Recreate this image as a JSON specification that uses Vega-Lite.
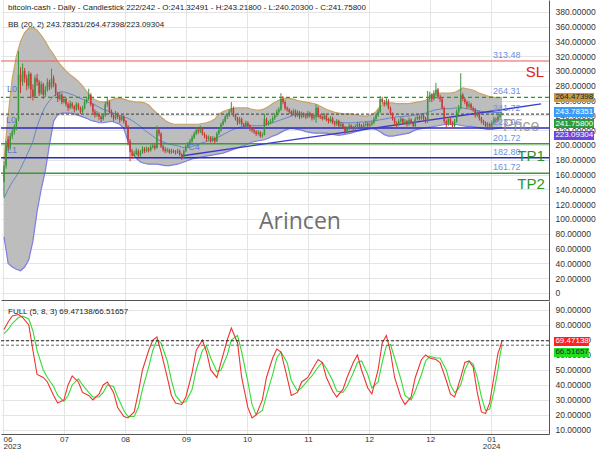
{
"$schema":"https://vega.github.io/schema/vega-lite/v6.json",
"padding":0,
"background":"white",
"spacing":1,
"config":{"view":{"stroke":null},"font":"Liberation Sans","axis":{"labelFont":"Liberation Sans","labelColor":"#333","labelFontSize":8,"gridColor":"#e4e4e4","domainColor":"#666","ticks":false,"labelOverlap":false}},
"datasets":{
"candles":[
{"i":0,"o":150,"h":178,"l":130,"c":172},{"i":1,"o":172,"h":205,"l":168,"c":200},{"i":2,"o":208,"h":212,"l":192,"c":195},{"i":3,"o":196,"h":216,"l":193,"c":212},{"i":4,"o":212,"h":222,"l":208,"c":218},{"i":5,"o":218,"h":228,"l":214,"c":225},{"i":6,"o":225,"h":236,"l":220,"c":232},{"i":7,"o":235,"h":327,"l":232,"c":295},{"i":8,"o":295,"h":305,"l":270,"c":285},{"i":9,"o":285,"h":310,"l":280,"c":300},
{"i":10,"o":300,"h":304,"l":284,"c":290},{"i":11,"o":290,"h":295,"l":274,"c":280},{"i":12,"o":280,"h":300,"l":276,"c":296},{"i":13,"o":296,"h":298,"l":263,"c":275},{"i":14,"o":275,"h":282,"l":260,"c":265},{"i":15,"o":266,"h":294,"l":264,"c":290},{"i":16,"o":290,"h":296,"l":280,"c":285},{"i":17,"o":285,"h":288,"l":266,"c":270},{"i":18,"o":270,"h":286,"l":268,"c":282},{"i":19,"o":282,"h":284,"l":262,"c":268},
{"i":20,"o":268,"h":280,"l":265,"c":275},{"i":21,"o":275,"h":290,"l":272,"c":285},{"i":22,"o":285,"h":288,"l":274,"c":278},{"i":23,"o":278,"h":303,"l":276,"c":290},{"i":24,"o":290,"h":294,"l":278,"c":282},{"i":25,"o":282,"h":284,"l":266,"c":270},{"i":26,"o":270,"h":272,"l":258,"c":262},{"i":27,"o":262,"h":272,"l":260,"c":268},{"i":28,"o":268,"h":270,"l":255,"c":258},{"i":29,"o":258,"h":266,"l":256,"c":262},
{"i":30,"o":262,"h":264,"l":252,"c":255},{"i":31,"o":255,"h":258,"l":246,"c":250},{"i":32,"o":250,"h":260,"l":248,"c":256},{"i":33,"o":256,"h":258,"l":249,"c":252},{"i":34,"o":252,"h":254,"l":244,"c":248},{"i":35,"o":248,"h":258,"l":246,"c":255},{"i":36,"o":255,"h":257,"l":247,"c":250},{"i":37,"o":250,"h":252,"l":242,"c":245},{"i":38,"o":245,"h":253,"l":243,"c":250},{"i":39,"o":250,"h":261,"l":248,"c":258},
{"i":40,"o":258,"h":265,"l":256,"c":262},{"i":41,"o":262,"h":276,"l":260,"c":268},{"i":42,"o":268,"h":270,"l":252,"c":255},{"i":43,"o":255,"h":257,"l":242,"c":245},{"i":44,"o":245,"h":248,"l":237,"c":240},{"i":45,"o":240,"h":246,"l":238,"c":242},{"i":46,"o":242,"h":244,"l":234,"c":238},{"i":47,"o":238,"h":240,"l":231,"c":235},{"i":48,"o":235,"h":243,"l":233,"c":240},{"i":49,"o":240,"h":258,"l":238,"c":255},
{"i":50,"o":255,"h":265,"l":252,"c":258},{"i":51,"o":258,"h":260,"l":242,"c":245},{"i":52,"o":245,"h":248,"l":237,"c":240},{"i":53,"o":240,"h":242,"l":232,"c":236},{"i":54,"o":236,"h":246,"l":234,"c":242},{"i":55,"o":242,"h":244,"l":235,"c":238},{"i":56,"o":238,"h":240,"l":230,"c":234},{"i":57,"o":234,"h":241,"l":232,"c":238},{"i":58,"o":238,"h":240,"l":229,"c":232},{"i":59,"o":232,"h":234,"l":222,"c":225},
{"i":60,"o":225,"h":227,"l":200,"c":205},{"i":61,"o":205,"h":208,"l":178,"c":190},{"i":62,"o":190,"h":194,"l":181,"c":185},{"i":63,"o":185,"h":192,"l":183,"c":188},{"i":64,"o":188,"h":196,"l":186,"c":192},{"i":65,"o":192,"h":194,"l":184,"c":186},{"i":66,"o":186,"h":193,"l":184,"c":190},{"i":67,"o":190,"h":198,"l":188,"c":195},{"i":68,"o":195,"h":197,"l":189,"c":192},{"i":69,"o":192,"h":198,"l":190,"c":195},
{"i":70,"o":195,"h":197,"l":190,"c":193},{"i":71,"o":193,"h":200,"l":191,"c":197},{"i":72,"o":197,"h":202,"l":195,"c":199},{"i":73,"o":199,"h":201,"l":193,"c":196},{"i":74,"o":196,"h":226,"l":195,"c":220},{"i":75,"o":220,"h":224,"l":212,"c":215},{"i":76,"o":215,"h":217,"l":196,"c":198},{"i":77,"o":198,"h":200,"l":191,"c":194},{"i":78,"o":194,"h":197,"l":189,"c":192},{"i":79,"o":192,"h":196,"l":190,"c":193},
{"i":80,"o":193,"h":195,"l":188,"c":190},{"i":81,"o":190,"h":195,"l":188,"c":192},{"i":82,"o":192,"h":194,"l":189,"c":191},{"i":83,"o":191,"h":193,"l":187,"c":190},{"i":84,"o":190,"h":195,"l":188,"c":192},{"i":85,"o":192,"h":194,"l":185,"c":187},{"i":86,"o":187,"h":189,"l":180,"c":183},{"i":87,"o":183,"h":194,"l":182,"c":192},{"i":88,"o":192,"h":200,"l":190,"c":198},{"i":89,"o":198,"h":204,"l":196,"c":202},
{"i":90,"o":202,"h":208,"l":200,"c":205},{"i":91,"o":205,"h":213,"l":203,"c":210},{"i":92,"o":210,"h":218,"l":208,"c":215},{"i":93,"o":215,"h":224,"l":213,"c":220},{"i":94,"o":220,"h":223,"l":215,"c":218},{"i":95,"o":218,"h":226,"l":216,"c":222},{"i":96,"o":222,"h":224,"l":213,"c":215},{"i":97,"o":215,"h":217,"l":209,"c":212},{"i":98,"o":212,"h":214,"l":205,"c":208},{"i":99,"o":208,"h":213,"l":206,"c":210},
{"i":100,"o":210,"h":212,"l":203,"c":206},{"i":101,"o":206,"h":212,"l":204,"c":209},{"i":102,"o":209,"h":211,"l":202,"c":205},{"i":103,"o":205,"h":218,"l":204,"c":215},{"i":104,"o":215,"h":223,"l":213,"c":220},{"i":105,"o":220,"h":230,"l":218,"c":228},{"i":106,"o":228,"h":235,"l":226,"c":232},{"i":107,"o":232,"h":241,"l":230,"c":238},{"i":108,"o":238,"h":243,"l":235,"c":240},{"i":109,"o":240,"h":248,"l":238,"c":245},
{"i":110,"o":245,"h":258,"l":243,"c":250},{"i":111,"o":250,"h":252,"l":238,"c":240},{"i":112,"o":240,"h":242,"l":233,"c":236},{"i":113,"o":236,"h":238,"l":227,"c":230},{"i":114,"o":230,"h":238,"l":228,"c":235},{"i":115,"o":235,"h":237,"l":226,"c":228},{"i":116,"o":228,"h":230,"l":222,"c":225},{"i":117,"o":225,"h":233,"l":223,"c":230},{"i":118,"o":230,"h":232,"l":224,"c":226},{"i":119,"o":226,"h":228,"l":219,"c":222},
{"i":120,"o":222,"h":224,"l":217,"c":220},{"i":121,"o":220,"h":222,"l":215,"c":218},{"i":122,"o":218,"h":220,"l":212,"c":215},{"i":123,"o":215,"h":220,"l":213,"c":217},{"i":124,"o":217,"h":219,"l":210,"c":212},{"i":125,"o":212,"h":217,"l":210,"c":214},{"i":126,"o":214,"h":242,"l":213,"c":235},{"i":127,"o":235,"h":237,"l":226,"c":228},{"i":128,"o":228,"h":233,"l":226,"c":230},{"i":129,"o":230,"h":235,"l":228,"c":232},
{"i":130,"o":232,"h":239,"l":230,"c":236},{"i":131,"o":236,"h":243,"l":234,"c":240},{"i":132,"o":240,"h":248,"l":238,"c":245},{"i":133,"o":245,"h":251,"l":243,"c":248},{"i":134,"o":248,"h":270,"l":246,"c":262},{"i":135,"o":262,"h":266,"l":255,"c":258},{"i":136,"o":258,"h":260,"l":247,"c":250},{"i":137,"o":250,"h":252,"l":245,"c":248},{"i":138,"o":248,"h":250,"l":242,"c":245},{"i":139,"o":245,"h":247,"l":239,"c":242},
{"i":140,"o":242,"h":249,"l":240,"c":246},{"i":141,"o":246,"h":248,"l":237,"c":240},{"i":142,"o":240,"h":247,"l":238,"c":244},{"i":143,"o":244,"h":246,"l":235,"c":238},{"i":144,"o":238,"h":245,"l":236,"c":242},{"i":145,"o":242,"h":244,"l":237,"c":240},{"i":146,"o":240,"h":242,"l":235,"c":238},{"i":147,"o":238,"h":246,"l":236,"c":243},{"i":148,"o":243,"h":245,"l":237,"c":240},{"i":149,"o":240,"h":242,"l":233,"c":236},
{"i":150,"o":236,"h":241,"l":234,"c":238},{"i":151,"o":238,"h":255,"l":230,"c":250},{"i":152,"o":250,"h":252,"l":237,"c":240},{"i":153,"o":240,"h":242,"l":235,"c":238},{"i":154,"o":238,"h":240,"l":233,"c":236},{"i":155,"o":236,"h":243,"l":234,"c":240},{"i":156,"o":240,"h":242,"l":232,"c":235},{"i":157,"o":235,"h":237,"l":229,"c":232},{"i":158,"o":232,"h":239,"l":230,"c":236},{"i":159,"o":236,"h":238,"l":228,"c":230},
{"i":160,"o":230,"h":232,"l":225,"c":228},{"i":161,"o":228,"h":235,"l":226,"c":232},{"i":162,"o":232,"h":234,"l":224,"c":226},{"i":163,"o":226,"h":231,"l":224,"c":228},{"i":164,"o":228,"h":230,"l":222,"c":224},{"i":165,"o":224,"h":226,"l":215,"c":218},{"i":166,"o":218,"h":225,"l":216,"c":222},{"i":167,"o":222,"h":229,"l":220,"c":226},{"i":168,"o":226,"h":228,"l":221,"c":224},{"i":169,"o":224,"h":226,"l":219,"c":222},
{"i":170,"o":222,"h":228,"l":220,"c":225},{"i":171,"o":225,"h":231,"l":223,"c":228},{"i":172,"o":228,"h":230,"l":224,"c":226},{"i":173,"o":226,"h":228,"l":221,"c":224},{"i":174,"o":224,"h":230,"l":222,"c":227},{"i":175,"o":227,"h":232,"l":225,"c":229},{"i":176,"o":229,"h":231,"l":224,"c":226},{"i":177,"o":226,"h":231,"l":224,"c":228},{"i":178,"o":228,"h":233,"l":226,"c":230},{"i":179,"o":230,"h":238,"l":228,"c":235},
{"i":180,"o":235,"h":243,"l":233,"c":240},{"i":181,"o":240,"h":248,"l":238,"c":245},{"i":182,"o":245,"h":266,"l":243,"c":262},{"i":183,"o":262,"h":265,"l":255,"c":258},{"i":184,"o":258,"h":261,"l":252,"c":255},{"i":185,"o":255,"h":264,"l":253,"c":260},{"i":186,"o":260,"h":262,"l":248,"c":250},{"i":187,"o":250,"h":252,"l":240,"c":242},{"i":188,"o":242,"h":244,"l":233,"c":235},{"i":189,"o":235,"h":237,"l":227,"c":230},
{"i":190,"o":230,"h":232,"l":224,"c":228},{"i":191,"o":228,"h":235,"l":226,"c":232},{"i":192,"o":232,"h":238,"l":230,"c":235},{"i":193,"o":235,"h":237,"l":227,"c":230},{"i":194,"o":230,"h":235,"l":228,"c":232},{"i":195,"o":232,"h":234,"l":225,"c":228},{"i":196,"o":228,"h":237,"l":226,"c":234},{"i":197,"o":234,"h":236,"l":228,"c":230},{"i":198,"o":230,"h":232,"l":223,"c":226},{"i":199,"o":226,"h":238,"l":224,"c":235},
{"i":200,"o":235,"h":241,"l":233,"c":238},{"i":201,"o":238,"h":240,"l":233,"c":236},{"i":202,"o":236,"h":243,"l":234,"c":240},{"i":203,"o":240,"h":242,"l":233,"c":236},{"i":204,"o":236,"h":238,"l":229,"c":232},{"i":205,"o":232,"h":273,"l":230,"c":262},{"i":206,"o":262,"h":272,"l":258,"c":268},{"i":207,"o":268,"h":270,"l":258,"c":262},{"i":208,"o":262,"h":274,"l":260,"c":270},{"i":209,"o":270,"h":284,"l":266,"c":275},
{"i":210,"o":275,"h":277,"l":262,"c":265},{"i":211,"o":265,"h":268,"l":258,"c":262},{"i":212,"o":262,"h":264,"l":248,"c":250},{"i":213,"o":250,"h":252,"l":229,"c":232},{"i":214,"o":232,"h":234,"l":224,"c":228},{"i":215,"o":228,"h":238,"l":226,"c":235},{"i":216,"o":235,"h":237,"l":227,"c":230},{"i":217,"o":230,"h":232,"l":222,"c":226},{"i":218,"o":226,"h":235,"l":224,"c":232},{"i":219,"o":232,"h":248,"l":230,"c":245},
{"i":220,"o":245,"h":254,"l":243,"c":250},{"i":221,"o":250,"h":297,"l":248,"c":268},{"i":222,"o":268,"h":270,"l":259,"c":262},{"i":223,"o":262,"h":264,"l":255,"c":258},{"i":224,"o":258,"h":260,"l":249,"c":252},{"i":225,"o":252,"h":259,"l":250,"c":255},{"i":226,"o":255,"h":257,"l":247,"c":250},{"i":227,"o":250,"h":252,"l":245,"c":248},{"i":228,"o":248,"h":250,"l":237,"c":240},{"i":229,"o":240,"h":247,"l":238,"c":244},
{"i":230,"o":244,"h":246,"l":233,"c":236},{"i":231,"o":236,"h":238,"l":229,"c":232},{"i":232,"o":232,"h":234,"l":227,"c":230},{"i":233,"o":230,"h":232,"l":222,"c":226},{"i":234,"o":226,"h":231,"l":224,"c":228},{"i":235,"o":228,"h":230,"l":222,"c":225},{"i":236,"o":225,"h":233,"l":223,"c":230},{"i":237,"o":230,"h":238,"l":228,"c":235},{"i":238,"o":235,"h":237,"l":230,"c":233},{"i":239,"o":233,"h":241,"l":231,"c":238},
{"i":240,"o":238,"h":243,"l":236,"c":241.3},{"i":241,"o":241.32491,"h":243.218,"l":240.203,"c":241.758}
],
"bb":[
{"i":0,"u":180,"m":128,"lo":76},{"i":2,"u":240,"m":140,"lo":40},{"i":4,"u":290,"m":150,"lo":35},{"i":6,"u":320,"m":158,"lo":32},{"i":8,"u":340,"m":168,"lo":30},{"i":10,"u":352,"m":180,"lo":35},{"i":12,"u":358,"m":192,"lo":45},{"i":14,"u":359,"m":205,"lo":70},{"i":16,"u":355,"m":225,"lo":110},{"i":18,"u":348,"m":240,"lo":140},
{"i":20,"u":340,"m":252,"lo":165},{"i":22,"u":330,"m":260,"lo":200},{"i":24,"u":322,"m":266,"lo":232},{"i":26,"u":313,"m":270,"lo":241},{"i":28,"u":306,"m":272,"lo":243},{"i":30,"u":300,"m":271,"lo":243},{"i":32,"u":295,"m":269,"lo":243},{"i":34,"u":291,"m":267,"lo":242},{"i":36,"u":286,"m":264,"lo":240},{"i":38,"u":280,"m":262,"lo":238},
{"i":40,"u":272,"m":259,"lo":236},{"i":42,"u":265,"m":256,"lo":233},{"i":44,"u":261,"m":254,"lo":232},{"i":46,"u":259,"m":251,"lo":230},{"i":48,"u":258,"m":248,"lo":230},{"i":50,"u":259,"m":246,"lo":231},{"i":52,"u":261,"m":244,"lo":232},{"i":54,"u":263,"m":242,"lo":230},{"i":56,"u":263,"m":240,"lo":228},{"i":58,"u":262,"m":238,"lo":222},
{"i":60,"u":260,"m":236,"lo":205},{"i":62,"u":259,"m":233,"lo":190},{"i":64,"u":258,"m":229,"lo":182},{"i":66,"u":258,"m":225,"lo":177},{"i":68,"u":257,"m":220,"lo":175},{"i":70,"u":254,"m":216,"lo":174},{"i":72,"u":248,"m":212,"lo":174},{"i":74,"u":243,"m":208,"lo":174},{"i":76,"u":238,"m":205,"lo":173},{"i":78,"u":233,"m":203,"lo":172},
{"i":80,"u":230,"m":201,"lo":172},{"i":82,"u":228,"m":200,"lo":173},{"i":84,"u":228,"m":199,"lo":174},{"i":86,"u":228,"m":197,"lo":176},{"i":88,"u":228,"m":196,"lo":178},{"i":90,"u":228,"m":197,"lo":180},{"i":92,"u":228,"m":199,"lo":182},{"i":94,"u":228,"m":201,"lo":183},{"i":96,"u":229,"m":203,"lo":184},{"i":98,"u":230,"m":205,"lo":185},
{"i":100,"u":232,"m":206,"lo":186},{"i":102,"u":235,"m":208,"lo":187},{"i":104,"u":242,"m":211,"lo":188},{"i":106,"u":245,"m":214,"lo":189},{"i":108,"u":247,"m":217,"lo":191},{"i":110,"u":249,"m":220,"lo":193},{"i":112,"u":250,"m":222,"lo":195},{"i":114,"u":250,"m":224,"lo":197},{"i":116,"u":250,"m":225,"lo":199},{"i":118,"u":250,"m":226,"lo":201},
{"i":120,"u":248,"m":226,"lo":204},{"i":122,"u":247,"m":226,"lo":205},{"i":124,"u":247,"m":226,"lo":206},{"i":126,"u":249,"m":227,"lo":207},{"i":128,"u":252,"m":229,"lo":209},{"i":130,"u":256,"m":230,"lo":212},{"i":132,"u":259,"m":232,"lo":214},{"i":134,"u":262,"m":234,"lo":217},{"i":136,"u":263,"m":236,"lo":220},{"i":138,"u":263,"m":238,"lo":222},
{"i":140,"u":262,"m":240,"lo":222},{"i":142,"u":260,"m":241,"lo":221},{"i":144,"u":259,"m":242,"lo":220},{"i":146,"u":258,"m":242,"lo":218},{"i":148,"u":257,"m":241,"lo":217},{"i":150,"u":256,"m":240,"lo":216},{"i":152,"u":254,"m":239,"lo":216},{"i":154,"u":251,"m":237,"lo":216},{"i":156,"u":248,"m":235,"lo":216},{"i":158,"u":246,"m":233,"lo":215},
{"i":160,"u":244,"m":232,"lo":214},{"i":162,"u":243,"m":231,"lo":213},{"i":164,"u":242,"m":230,"lo":214},{"i":166,"u":242,"m":230,"lo":215},{"i":168,"u":242,"m":230,"lo":216},{"i":170,"u":241,"m":230,"lo":218},{"i":172,"u":240,"m":231,"lo":219},{"i":174,"u":239,"m":231,"lo":221},{"i":176,"u":239,"m":232,"lo":222},{"i":178,"u":241,"m":232,"lo":222},
{"i":180,"u":245,"m":233,"lo":221},{"i":182,"u":252,"m":234,"lo":218},{"i":184,"u":256,"m":235,"lo":214},{"i":186,"u":257,"m":236,"lo":212},{"i":188,"u":257,"m":237,"lo":212},{"i":190,"u":256,"m":238,"lo":213},{"i":192,"u":256,"m":238,"lo":214},{"i":194,"u":256,"m":239,"lo":215},{"i":196,"u":256,"m":239,"lo":216},{"i":198,"u":257,"m":240,"lo":219},
{"i":200,"u":258,"m":241,"lo":221},{"i":202,"u":259,"m":242,"lo":222},{"i":204,"u":260,"m":243,"lo":223},{"i":206,"u":266,"m":245,"lo":224},{"i":208,"u":269,"m":247,"lo":225},{"i":210,"u":270,"m":248,"lo":226},{"i":212,"u":270,"m":249,"lo":227},{"i":214,"u":270,"m":249,"lo":228},{"i":216,"u":270,"m":249,"lo":228},{"i":218,"u":271,"m":250,"lo":228},
{"i":220,"u":274,"m":250,"lo":227},{"i":222,"u":277,"m":250,"lo":226},{"i":224,"u":276,"m":249,"lo":225},{"i":226,"u":275,"m":248,"lo":225},{"i":228,"u":273,"m":247,"lo":224},{"i":230,"u":270,"m":246,"lo":223},{"i":232,"u":268,"m":245,"lo":222},{"i":234,"u":266,"m":244,"lo":221},{"i":236,"u":265,"m":244,"lo":221},{"i":238,"u":264,"m":243.9,"lo":222},
{"i":240,"u":264,"m":243.8,"lo":222.8},{"i":241,"u":264.47,"m":243.78,"lo":223.09}
],
"stoch":[
{"i":0,"k":77,"d":74},{"i":2,"k":82,"d":77},{"i":4,"k":86,"d":81},{"i":7,"k":87,"d":85},{"i":9,"k":85,"d":86},{"i":12,"k":80,"d":84},{"i":14,"k":63,"d":76},{"i":16,"k":47,"d":63},{"i":19,"k":45,"d":50},{"i":21,"k":42,"d":45},
{"i":24,"k":33,"d":39},{"i":26,"k":28,"d":33},{"i":29,"k":30,"d":29},{"i":31,"k":40,"d":33},{"i":33,"k":46,"d":40},{"i":36,"k":42,"d":44},{"i":38,"k":35,"d":40},{"i":41,"k":33,"d":35},{"i":43,"k":30,"d":32},{"i":46,"k":34,"d":32},
{"i":48,"k":40,"d":35},{"i":50,"k":42,"d":40},{"i":53,"k":35,"d":39},{"i":55,"k":25,"d":32},{"i":58,"k":19,"d":23},{"i":60,"k":18,"d":19},{"i":63,"k":22,"d":19},{"i":65,"k":35,"d":25},{"i":67,"k":50,"d":37},{"i":70,"k":63,"d":52},
{"i":72,"k":70,"d":63},{"i":74,"k":72,"d":70},{"i":76,"k":62,"d":68},{"i":79,"k":45,"d":56},{"i":81,"k":33,"d":43},{"i":83,"k":28,"d":33},{"i":86,"k":27,"d":28},{"i":88,"k":32,"d":29},{"i":91,"k":48,"d":37},{"i":93,"k":63,"d":50},
{"i":96,"k":70,"d":63},{"i":98,"k":62,"d":66},{"i":100,"k":50,"d":58},{"i":103,"k":45,"d":49},{"i":105,"k":55,"d":50},{"i":108,"k":70,"d":60},{"i":110,"k":78,"d":70},{"i":113,"k":68,"d":73},{"i":115,"k":45,"d":62},{"i":118,"k":25,"d":42},
{"i":120,"k":18,"d":27},{"i":122,"k":20,"d":20},{"i":125,"k":30,"d":23},{"i":127,"k":45,"d":33},{"i":130,"k":58,"d":47},{"i":132,"k":64,"d":58},{"i":134,"k":62,"d":62},{"i":137,"k":45,"d":55},{"i":139,"k":33,"d":43},{"i":142,"k":35,"d":36},
{"i":144,"k":42,"d":38},{"i":147,"k":45,"d":43},{"i":149,"k":50,"d":46},{"i":152,"k":57,"d":52},{"i":154,"k":55,"d":55},{"i":156,"k":45,"d":51},{"i":159,"k":36,"d":43},{"i":161,"k":32,"d":36},{"i":164,"k":37,"d":35},{"i":166,"k":45,"d":39},
{"i":169,"k":55,"d":48},{"i":171,"k":60,"d":55},{"i":173,"k":50,"d":56},{"i":176,"k":38,"d":47},{"i":178,"k":34,"d":38},{"i":181,"k":50,"d":42},{"i":183,"k":68,"d":55},{"i":185,"k":73,"d":66},{"i":187,"k":62,"d":67},{"i":189,"k":45,"d":58},
{"i":192,"k":32,"d":44},{"i":194,"k":27,"d":33},{"i":197,"k":32,"d":30},{"i":199,"k":45,"d":36},{"i":202,"k":57,"d":47},{"i":204,"k":60,"d":56},{"i":206,"k":58,"d":59},{"i":209,"k":57,"d":58},{"i":211,"k":55,"d":58},{"i":214,"k":43,"d":50},
{"i":216,"k":34,"d":40},{"i":218,"k":32,"d":35},{"i":219,"k":36,"d":36},{"i":221,"k":45,"d":40},{"i":223,"k":55,"d":50},{"i":225,"k":56,"d":56},{"i":227,"k":52,"d":54},{"i":229,"k":35,"d":45},{"i":231,"k":22,"d":32},{"i":233,"k":21,"d":23},
{"i":235,"k":28,"d":24},{"i":237,"k":45,"d":35},{"i":239,"k":61,"d":50},{"i":240,"k":65,"d":60},{"i":241,"k":69.47138,"d":66.51657}
],
"levels":[
{"v":313.48,"t":"sl","label":"313.48"},{"v":264.31,"t":"gd","label":"264.31"},{"v":241.72,"t":"kd","label":"241.72"},{"v":223.06,"t":"b","label":"223.06"},{"v":201.72,"t":"g","label":"201.72"},{"v":182.8,"t":"b","label":"182.80"},{"v":161.72,"t":"g","label":"161.72"}
],
"trend":[{"i":85.7,"p":185.1},{"i":259.9,"p":255.4}],
"one":[{"n":1}]
},
"vconcat":[
{
"width":548,"height":300,
"data":{"name":"one"},
"layer":[
{"data":{"name":"bb"},"mark":{"type":"area","color":"#b9b9b9","opacity":0.95},
 "encoding":{
  "x":{"field":"i","type":"quantitative","scale":{"domain":[-1.45,263.7],"nice":false,"zero":false},
       "axis":{"title":null,"orient":"bottom","values":[-0.5,29,58.6,88.1,117.6,147.1,176.6,206.2,235.7],"tickCount":100,"labels":false,"grid":true,"domain":true,"domainColor":"#555"}},
  "y":{"field":"u","type":"quantitative","scale":{"domain":[-9.5,395.9],"nice":false,"zero":false},
       "axis":{"title":null,"orient":"right","zindex":0,"values":[0,20,40,60,80,100,120,140,160,180,200,220,240,260,280,300,320,340,360,380],"tickCount":100,"labelExpr":"datum.value == 0 ? '0' : format(datum.value, '.5f')","labelOverlap":false,"labelFontSize":8.5,"grid":true,"domain":true,"domainColor":"#555","labelPadding":6}},
  "y2":{"field":"lo"}}},
{"data":{"name":"bb"},"mark":{"type":"line","color":"#c9a468","strokeWidth":1.2},"encoding":{"x":{"field":"i","type":"quantitative"},"y":{"field":"u","type":"quantitative"}}},
{"data":{"name":"bb"},"mark":{"type":"line","color":"#7d7de6","strokeWidth":1.2},"encoding":{"x":{"field":"i","type":"quantitative"},"y":{"field":"lo","type":"quantitative"}}},
{"data":{"name":"bb"},"mark":{"type":"line","color":"#5a80c8","strokeWidth":0.9},"encoding":{"x":{"field":"i","type":"quantitative"},"y":{"field":"m","type":"quantitative"}}},
{"data":{"name":"levels"},"mark":{"type":"rule"},
 "encoding":{"y":{"field":"v","type":"quantitative"},
  "color":{"field":"t","type":"nominal","legend":null,"scale":{"domain":["sl","gd","kd","b","g"],"range":["#e85a5a","#1aa51a","#555555","#2b2bb8","#3a9a3a"]}},
  "strokeDash":{"field":"t","type":"nominal","legend":null,"scale":{"domain":["sl","gd","kd","b","g"],"range":[[1,0],[4,3],[3,2],[1,0],[1,0]]}},
  "strokeWidth":{"field":"t","type":"nominal","legend":null,"scale":{"domain":["sl","gd","kd","b","g"],"range":[1,1.6,1.2,1.2,1]}}}},
{"data":{"name":"trend"},"mark":{"type":"line","color":"#3b3bcc","strokeWidth":1.3},"encoding":{"x":{"field":"i","type":"quantitative"},"y":{"field":"p","type":"quantitative"}}},
{"data":{"name":"candles"},"mark":{"type":"rule","strokeWidth":1},
 "encoding":{"x":{"field":"i","type":"quantitative"},"y":{"field":"l","type":"quantitative"},"y2":{"field":"h"},
  "color":{"condition":{"test":"datum.c >= datum.o","value":"#3a963a"},"value":"#cc3838"}}},
{"data":{"name":"candles"},"mark":{"type":"rule","strokeWidth":1.5},
 "encoding":{"x":{"field":"i","type":"quantitative"},"y":{"field":"o","type":"quantitative"},"y2":{"field":"c"},
  "color":{"condition":{"test":"datum.c >= datum.o","value":"#3a963a"},"value":"#cc3838"}}},
{"data":{"name":"levels"},"mark":{"type":"text","align":"left","baseline":"bottom","dy":-1,"fontSize":9,"color":"#7090e0"},
 "encoding":{"x":{"datum":236.6},"y":{"field":"v","type":"quantitative"},"text":{"field":"label"}}},
{"mark":{"type":"text","text":"Price","align":"center","baseline":"middle","fontSize":16,"color":"#8a8a8a","opacity":0.8},"encoding":{"x":{"datum":250.2},"y":{"datum":225.7}}},
{"mark":{"type":"text","text":"SL","align":"center","baseline":"middle","fontSize":15,"color":"#e02020"},"encoding":{"x":{"datum":256.9},"y":{"datum":298.6}}},
{"mark":{"type":"text","text":"TP1","align":"center","baseline":"middle","fontSize":15,"color":"#2a962a"},"encoding":{"x":{"datum":255},"y":{"datum":185.1}}},
{"mark":{"type":"text","text":"TP2","align":"center","baseline":"middle","fontSize":15,"color":"#2a962a"},"encoding":{"x":{"datum":255},"y":{"datum":147.3}}},
{"mark":{"type":"text","text":"L0","align":"center","baseline":"middle","fontSize":9,"color":"#5577dd"},"encoding":{"x":{"datum":3.9},"y":{"datum":275.7}}},
{"mark":{"type":"text","text":"L0","align":"center","baseline":"middle","fontSize":9,"color":"#5577dd"},"encoding":{"x":{"datum":3.4},"y":{"datum":233.8}}},
{"mark":{"type":"text","text":"L1","align":"center","baseline":"middle","fontSize":9,"color":"#5577dd"},"encoding":{"x":{"datum":3.9},"y":{"datum":193.2}}},
{"mark":{"type":"text","text":"C4","align":"center","baseline":"middle","fontSize":9,"color":"#5577dd"},"encoding":{"x":{"datum":91.9},"y":{"datum":197.3}}},
{"mark":{"type":"text","text":"Arincen","align":"center","baseline":"middle","fontSize":23,"font":"Open Sans","color":"#707070"},"encoding":{"x":{"datum":143.2},"y":{"datum":95.9}}},
{"mark":{"type":"text","text":"bitcoin-cash - Daily - Candlestick   222/242 - O:241.32491 - H:243.21800 - L:240.20300 - C:241.75800","align":"left","baseline":"middle","fontSize":8,"color":"#222"},"encoding":{"x":{"datum":1.94},"y":{"datum":385.1}}},
{"mark":{"type":"text","text":"BB (20, 2)   243.78351/264.47398/223.09304","align":"left","baseline":"middle","fontSize":8,"color":"#222"},"encoding":{"x":{"datum":1.94},"y":{"datum":362.2}}},
{"mark":{"type":"rect","color":"#c99a45"},"encoding":{"x":{"datum":266.1},"x2":{"datum":285.5},"y":{"datum":270.3},"y2":{"datum":258.1}}},
{"mark":{"type":"rect","color":"#3b9bf5"},"encoding":{"x":{"datum":266.1},"x2":{"datum":285.5},"y":{"datum":251.4},"y2":{"datum":237.8}}},
{"mark":{"type":"rect","color":"#2e9a3e"},"encoding":{"x":{"datum":266.1},"x2":{"datum":285.5},"y":{"datum":235.1},"y2":{"datum":223.0}}},
{"mark":{"type":"rect","color":"#6b45dd"},"encoding":{"x":{"datum":266.1},"x2":{"datum":285.5},"y":{"datum":218.9},"y2":{"datum":206.8}}},
{"mark":{"type":"text","text":"264.47398","align":"left","baseline":"middle","fontSize":8,"color":"#222"},"encoding":{"x":{"datum":266.8},"y":{"datum":264.2}}},
{"mark":{"type":"text","text":"243.78351","align":"left","baseline":"middle","fontSize":8,"color":"#ffffff"},"encoding":{"x":{"datum":266.8},"y":{"datum":244.6}}},
{"mark":{"type":"text","text":"241.75800","align":"left","baseline":"middle","fontSize":8,"color":"#ffffff"},"encoding":{"x":{"datum":266.8},"y":{"datum":229.0}}},
{"mark":{"type":"text","text":"223.09304","align":"left","baseline":"middle","fontSize":8,"color":"#ffffff"},"encoding":{"x":{"datum":266.8},"y":{"datum":212.8}}}
]
},
{
"width":548,"height":133,
"data":{"name":"one"},
"layer":[
{"data":{"name":"stoch"},"mark":{"type":"line","color":"#33dd33","strokeWidth":1.1},
 "encoding":{
  "x":{"field":"i","type":"quantitative","scale":{"domain":[-1.45,263.7],"nice":false,"zero":false},
       "axis":{"title":null,"orient":"bottom","values":[-0.5,29,58.6,88.1,117.6,147.1,176.6,206.2,235.7],"tickCount":100,"labelExpr":"datum.value < 10 ? ['06','2023'] : datum.value < 40 ? '07' : datum.value < 70 ? '08' : datum.value < 100 ? '09' : datum.value < 130 ? '10' : datum.value < 160 ? '11' : datum.value < 220 ? '12' : ['01','2024']","labelOverlap":false,"labelFlush":3,"labelFontSize":8,"labelLineHeight":7,"labelPadding":1,"grid":true,"domain":true,"domainColor":"#555"}},
  "y":{"field":"d","type":"quantitative","scale":{"domain":[7.3,96],"nice":false,"zero":false},
       "axis":{"title":null,"orient":"right","zindex":0,"values":[10,20,30,40,50,60,70,80,90],"tickCount":100,"labelExpr":"format(datum.value, '.5f')","labelOverlap":false,"labelFontSize":8.5,"grid":true,"domain":true,"domainColor":"#555","labelPadding":6}}}},
{"data":{"name":"stoch"},"mark":{"type":"line","color":"#f03333","strokeWidth":1.1},"encoding":{"x":{"field":"i","type":"quantitative"},"y":{"field":"k","type":"quantitative"}}},
{"mark":{"type":"rule","color":"#222","strokeDash":[3,2],"strokeWidth":1},"encoding":{"y":{"datum":69.47138}}},
{"mark":{"type":"rule","color":"#666","strokeDash":[3,2],"strokeWidth":1},"encoding":{"y":{"datum":66.51657}}},
{"mark":{"type":"text","text":"FULL (5, 8, 3)   69.47138/66.51657","align":"left","baseline":"middle","fontSize":8,"color":"#222"},"encoding":{"x":{"datum":1.94},"y":{"datum":88.7}}},
{"mark":{"type":"rect","color":"#ff2020"},"encoding":{"x":{"datum":266.1},"x2":{"datum":283.0},"y":{"datum":72},"y2":{"datum":66}}},
{"mark":{"type":"rect","color":"#22dd22"},"encoding":{"x":{"datum":266.1},"x2":{"datum":283.0},"y":{"datum":64.7},"y2":{"datum":58.7}}},
{"mark":{"type":"text","text":"69.47138","align":"left","baseline":"middle","fontSize":8,"color":"#ffffff"},"encoding":{"x":{"datum":266.8},"y":{"datum":69}}},
{"mark":{"type":"text","text":"66.51657","align":"left","baseline":"middle","fontSize":8,"color":"#222"},"encoding":{"x":{"datum":266.8},"y":{"datum":61.7}}}
]
}
]
}
